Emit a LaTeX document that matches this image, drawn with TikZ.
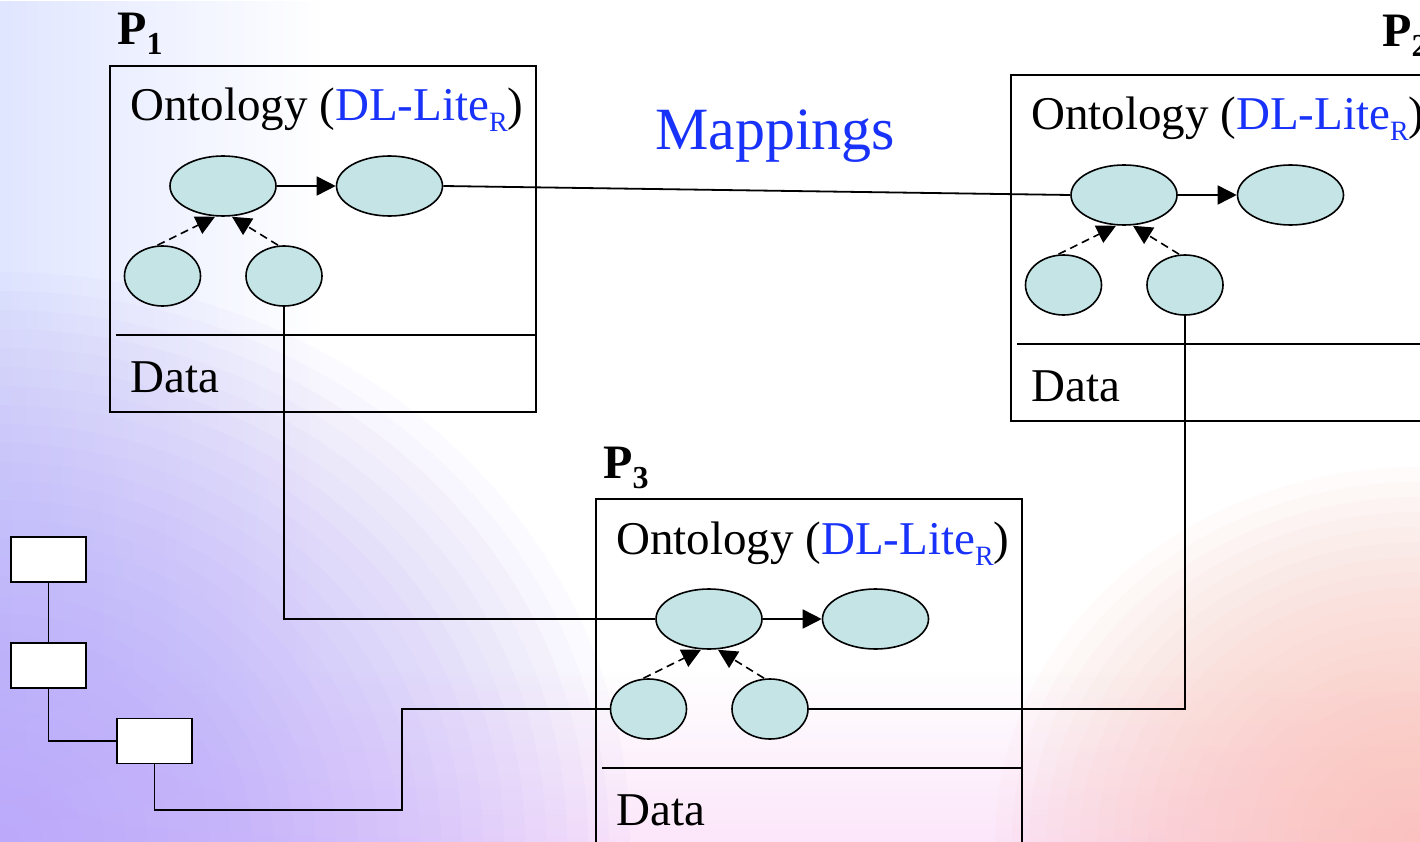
\documentclass[tikz,border=0pt]{standalone}
\usepackage{fontspec}
\setmainfont{Liberation Serif}
\usetikzlibrary{shapes.geometric,arrows.meta,fadings}
\definecolor{dlblue}{RGB}{25,50,250}
\definecolor{conceptfill}{RGB}{196,228,229}
\definecolor{bgleft}{RGB}{224,230,255}
\definecolor{bgpurple}{RGB}{180,162,250}
\definecolor{bgpink}{RGB}{252,230,250}
\definecolor{bgsalmon}{RGB}{250,190,180}
\tikzfading[name=faderight, left color=transparent!0, right color=transparent!100]
\tikzfading[name=fadeup, top color=transparent!100, bottom color=transparent!0]
\tikzset{
  peerbox/.style={draw=black, line width=1.8pt},
  concept/.style={ellipse, draw=black, fill=conceptfill, line width=1.6pt, minimum height=60pt, inner sep=0pt},
  bigconcept/.style={concept, minimum width=106pt},
  smallconcept/.style={concept, minimum width=76pt},
  isa/.style={line width=1.6pt, -{Triangle[length=19pt,width=19pt]}},
  isadash/.style={isa, dash pattern=on 8pt off 5pt},
  link/.style={line width=1.8pt},
  smallbox/.style={draw=black, fill=white, line width=1.8pt, minimum width=75pt, minimum height=45pt, inner sep=0pt},
  maintext/.style={anchor=base west, inner sep=0pt, font=\fontsize{47}{50}\selectfont},
  peerlabel/.style={anchor=base west, inner sep=0pt, font=\fontsize{48}{50}\selectfont\bfseries},
}
\newcommand{\sublabel}[1]{P\raisebox{-10pt}{\fontsize{32}{34}\selectfont #1}}
\newcommand{\drawpeer}[3]{%
  \begin{scope}[shift={(#2,#3)}]
    \draw[peerbox] (110,66) rectangle (536,412);
    \draw[peerbox] (116,335) -- (536,335);
    \node[maintext] (#1ont) at (130,121)
      {Ontology (\textcolor{dlblue}{DL-Lite\raisebox{-11pt}{\fontsize{28}{30}\selectfont R}})};
    \node[maintext] (#1data) at (130,392) {Data};
    \node[bigconcept] (#1a) at (223,186) {};
    \node[bigconcept] (#1b) at (389.5,186) {};
    \node[smallconcept] (#1c) at (162.5,276) {};
    \node[smallconcept] (#1d) at (284,276) {};
    \draw[isa] (#1a) -- (#1b);
    \draw[isadash] ([xshift=-5pt]#1c.north) -- ([xshift=-8pt]#1a.south);
    \draw[isadash] ([xshift=-6pt]#1d.north) -- ([xshift=9pt]#1a.south);
  \end{scope}}
\begin{document}
\begin{tikzpicture}[x=1pt,y=-1pt]
  \useasboundingbox (0,0) rectangle (1420,842);
  \clip (0,0) rectangle (1420,842);
  % background
  \fill[white] (0,0) rectangle (1420,842);
  \fill[bgleft, path fading=faderight] (0,0) rectangle (320,842);
  \fill[bgpink, path fading=fadeup] (0,670) rectangle (1420,842);
  \foreach \k in {1,...,30}
    \fill[bgpurple, opacity=0.05] (0,842) ellipse ({21*\k} and {19*\k});
  \foreach \k in {1,...,25}
    \fill[bgsalmon, opacity=0.055] (1420,842) ellipse ({17*\k} and {15*\k});
  % peers
  \drawpeer{pa}{0}{0}
  \drawpeer{pb}{901}{9}
  \drawpeer{pc}{486}{433}
  \node[peerlabel] (la) at (117,45) {\sublabel{1}};
  \node[peerlabel] (lb) at (1382,47) {\sublabel{2}};
  \node[peerlabel] (lc) at (603,478) {\sublabel{3}};
  \node[anchor=base west, inner sep=0pt, font=\fontsize{60}{64}\selectfont, text=dlblue] (map) at (655,150) {Mappings};
  % small boxes
  \node[smallbox] (s1) at (48.5,559.5) {};
  \node[smallbox] (s2) at (48.5,665.5) {};
  \node[smallbox] (s3) at (154.5,741) {};
  \coordinate (k1) at (402,810);
  % connectors
  \draw[link] (pab.east) -- (pba.west);
  \draw[link] (pad.south) |- (pca.west);
  \draw[link] (pcd.east) -| (pbd.south);
  \draw[link] (pcc.west) -| (k1) -| (s3.south);
  \draw[link] (s1.south) -- (s2.north);
  \draw[link] (s2.south) |- (s3.west);
\end{tikzpicture}
\end{document}
